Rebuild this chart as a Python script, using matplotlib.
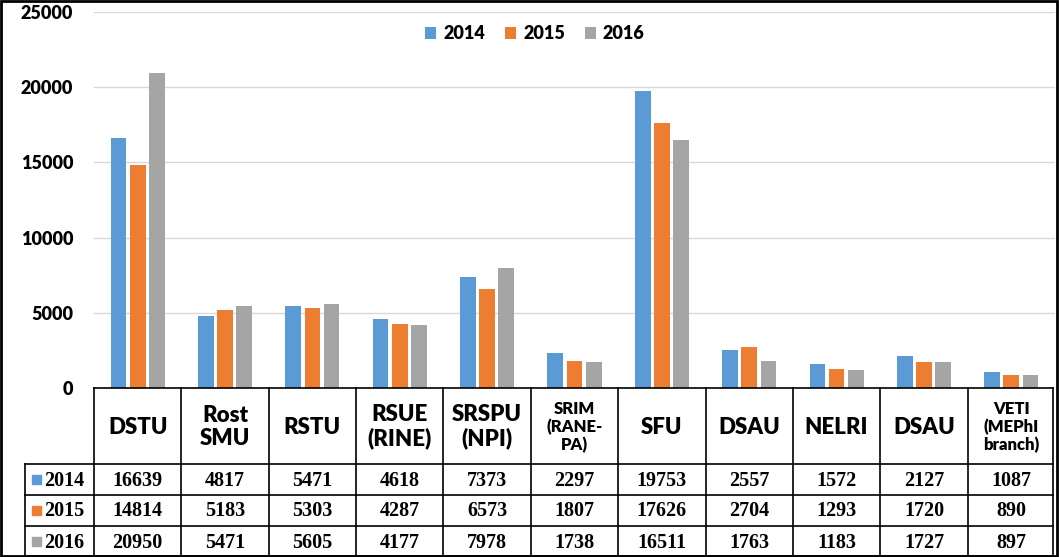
import matplotlib
matplotlib.use("Agg")
import matplotlib.pyplot as plt
from matplotlib.patches import Rectangle
import numpy as np

categories = ["DSTU", "Rost\nSMU", "RSTU", "RSUE\n(RINE)", "SRSPU\n(NPI)", "SRIM\n(RANE-\nPA)",
              "SFU", "DSAU", "NELRI", "DSAU", "VETI\n(MEPhI\nbranch)"]
years = ["2014", "2015", "2016"]
v2014 = [16639, 4817, 5471, 4618, 7373, 2297, 19753, 2557, 1572, 2127, 1087]
v2015 = [14814, 5183, 5303, 4287, 6573, 1807, 17626, 2704, 1293, 1720, 890]
v2016 = [20950, 5471, 5605, 4177, 7978, 1738, 16511, 1763, 1183, 1727, 897]
yticks = [0, 5000, 10000, 15000, 20000, 25000]

series = [v2014, v2015, v2016]
colors = ["#5B9BD5", "#ED7D31", "#A5A5A5"]
SANS = ["Lato", "DejaVu Sans"]
SERIF = ["Liberation Serif", "DejaVu Serif"]
HW = "heavy"

W, H = 1059, 557
fig = plt.figure(figsize=(W / 100, H / 100), dpi=100)

def fx(px):
    return px / W

def fy(py):
    return 1 - py / H

n = len(categories)
left_px, right_px = 94, 1055
ax = fig.add_axes([fx(left_px), fy(388), fx(right_px - left_px), fy(12) - fy(388)])
x = np.arange(n) + 0.5
offs = [-0.22, 0.0, 0.22]
bw = 0.18
for s, c, o, lab in zip(series, colors, offs, years):
    ax.bar(x + o, s, width=bw, color=c, label=lab, zorder=3)
ax.set_xlim(0, n)
ax.set_ylim(0, 25000)
ax.set_yticks(yticks)
ax.set_yticklabels([str(t) for t in yticks], fontsize=13, fontweight=HW, family=SANS)
ax.tick_params(axis="y", length=0, pad=15)
ax.set_xticks([])
ax.grid(axis="y", color="#D9D9D9", linewidth=1, zorder=0)
for sp in ax.spines.values():
    sp.set_visible(False)
leg = fig.legend(*ax.get_legend_handles_labels(), loc="upper center",
                 bbox_to_anchor=(fx(535), fy(9)), ncol=3, frameon=False,
                 prop={"family": SANS, "weight": HW, "size": 13},
                 handlelength=0.6, handleheight=0.6, handletextpad=0.4, columnspacing=1.1)

tax = fig.add_axes([fx(left_px), fy(557), fx(right_px - left_px), fy(388) - fy(557)])
tax.set_xlim(0, n)
tax.set_ylim(169, 0)
tax.axis("off")
colw_px = (right_px - left_px) / n
lab_left = (25 - left_px) / colw_px
hdr_h = 76
row_h = 31
row_tops = [hdr_h + i * row_h for i in range(3)]
bottom = hdr_h + 3 * row_h - 1
lw = 1.2
kw = dict(color="black", linewidth=lw, clip_on=False)
tax.plot([0, n - 0.02], [0, 0], **kw)
for yt in row_tops:
    tax.plot([lab_left, n - 0.02], [yt, yt], **kw)
tax.plot([lab_left, n - 0.02], [bottom, bottom], **kw)
for i in range(n + 1):
    xx = min(i, n - 0.02)
    tax.plot([xx, xx], [0, bottom], **kw)
tax.plot([lab_left, lab_left], [hdr_h, bottom], **kw)

for i, cat in enumerate(categories):
    nlines = cat.count("\n") + 1
    fs = 16 if nlines <= 2 else 12
    tax.text(i + 0.5, hdr_h / 2 + 1, cat, ha="center", va="center", fontsize=fs,
             fontweight=HW, family=SANS, linespacing=1.12)

for r, (s, c, yr) in enumerate(zip(series, colors, years)):
    yc = row_tops[r] + row_h / 2
    sq = 9 / colw_px
    tax.add_patch(Rectangle((lab_left + 7 / colw_px, yc - 4.5), sq, 9, color=c, clip_on=False))
    tax.text(lab_left + 19 / colw_px, yc + 1, yr, ha="left", va="center", fontsize=14.5,
             fontweight="bold", family=SERIF)
    for i, v in enumerate(s):
        tax.text(i + 0.5, yc + 1, str(v), ha="center", va="center", fontsize=14.5,
                 fontweight="bold", family=SERIF)

fig.add_artist(Rectangle((0.001, 0.002), 0.997, 0.996, transform=fig.transFigure,
                         fill=False, edgecolor="black", linewidth=2))

fig.savefig("out.png", dpi=100)
